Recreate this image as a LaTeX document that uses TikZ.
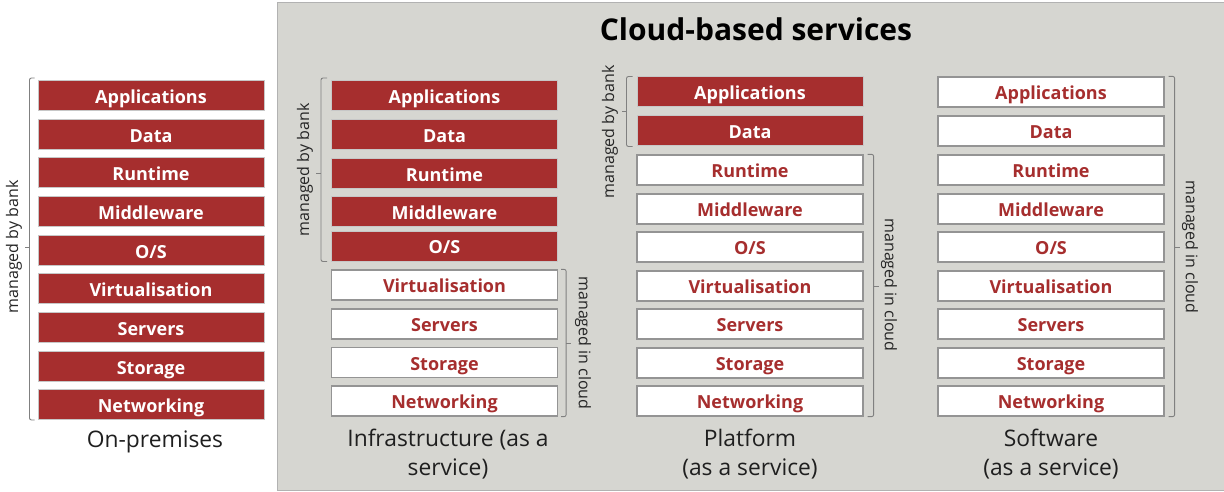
\documentclass[tikz,border=0pt]{standalone}
\usepackage{fontspec}
\setmainfont{Open Sans}
\begin{document}
\begin{tikzpicture}[x=1pt,y=-1pt,
  boxbase/.style={minimum width=226pt,minimum height=30pt,inner sep=0pt,text height=15.5pt,text depth=0pt,font=\fontsize{18}{20}\selectfont\bfseries},
  redbox/.style={boxbase,draw=black!22,line width=1pt,fill=bankred,text=white},
  whitebox/.style={boxbase,draw=black!42,line width=1.3pt,fill=white,text=bankred},
  brk/.style={draw=black!50,line width=0.9pt,rounded corners=2pt},
  side/.style={font=\fontsize{16}{18}\selectfont,text=black!85,inner sep=0pt},
  caption/.style={font=\fontsize{22.8}{29}\selectfont,text=black!88,align=center,inner sep=0pt}]
\definecolor{bankred}{RGB}{166,46,46}
\definecolor{panel}{RGB}{214,214,209}
\useasboundingbox (0,0) rectangle (1224,492);
\fill[white] (0,0) rectangle (1224,492);
\draw[fill=panel,draw=black!30,line width=1pt] (277,3) rectangle (1226,490);
\node[font=\fontsize{30}{34}\selectfont\bfseries,text=black] (title) at (756,29) {Cloud-based services};
% On-premises
\foreach \n/\t/\y in {1/Applications/95.5,2/Data/135,3/Runtime/173,4/Middleware/211.5,5/O\slash S/250.5,6/Virtualisation/288.5,7/Servers/327.5,8/Storage/366.5,9/Networking/404.5}
  \node[redbox] (op\n) at (151,\y) {\t};
% IaaS
\foreach \n/\t/\y in {1/Applications/95.5,2/Data/135,3/Runtime/173.5,4/Middleware/211.5,5/O\slash S/246}
  \node[redbox] (ia\n) at (444.5,\y) {\t};
\foreach \n/\t/\y in {6/Virtualisation/285,7/Servers/324,8/Storage/362.5,9/Networking/401}
  \node[whitebox] (ia\n) at (444.5,\y) {\t};
% PaaS
\foreach \n/\t/\y in {1/Applications/92,2/Data/131}
  \node[redbox] (pa\n) at (750,\y) {\t};
\foreach \n/\t/\y in {3/Runtime/170,4/Middleware/209,5/O\slash S/247,6/Virtualisation/286,7/Servers/324,8/Storage/363,9/Networking/401}
  \node[whitebox] (pa\n) at (750,\y) {\t};
% SaaS
\foreach \n/\t/\y in {1/Applications/92,2/Data/131,3/Runtime/170,4/Middleware/209,5/O\slash S/247,6/Virtualisation/286,7/Servers/324,8/Storage/363,9/Networking/401}
  \node[whitebox] (sa\n) at (1051,\y) {\t};
% brackets
\draw[brk] ([xshift=-3pt,yshift=2pt]op1.north west) -- ([xshift=-8pt,yshift=2pt]op1.north west) -- ([xshift=-8pt]op9.south west) -- ([xshift=-3pt]op9.south west);
\draw[brk] ([xshift=-8pt]op5.west |- 0,247) -- ++(-5,0);
\node[side,rotate=90] (oplab) at (14,247) {managed by bank};
\draw[brk] ([xshift=-4pt,yshift=2pt]ia1.north west) -- ([xshift=-10pt,yshift=2pt]ia1.north west) -- ([xshift=-10pt]ia5.south west) -- ([xshift=-4pt]ia5.south west);
\draw[brk] ([xshift=-10pt]ia3.west) -- ++(-5,0);
\node[side,rotate=90] (iablab) at (305,170) {managed by bank};
\draw[brk] ([xshift=3pt]ia6.north east) -- ([xshift=8pt]ia6.north east) -- ([xshift=8pt]ia9.south east) -- ([xshift=3pt]ia9.south east);
\draw[brk] ([xshift=8pt]ia6.east |- 0,343) -- ++(5,0);
\node[side,rotate=-90] (iaclab) at (583,343) {managed in cloud};
\draw[brk] ([xshift=-4pt]pa1.north west) -- ([xshift=-10pt]pa1.north west) -- ([xshift=-10pt]pa2.south west) -- ([xshift=-4pt]pa2.south west);
\draw[brk] ([xshift=-10pt]pa1.west |- 0,111.5) -- ++(-5,0);
\node[side,rotate=90] (pablab) at (610,132) {managed by bank};
\draw[brk] ([xshift=4pt]pa3.north east) -- ([xshift=10pt]pa3.north east) -- ([xshift=10pt]pa9.south east) -- ([xshift=4pt]pa9.south east);
\draw[brk] ([xshift=10pt]pa6.east) -- ++(5,0);
\node[side,rotate=-90] (paclab) at (889,285) {managed in cloud};
\draw[brk] ([xshift=4pt]sa1.north east) -- ([xshift=10pt]sa1.north east) -- ([xshift=10pt]sa9.south east) -- ([xshift=4pt]sa9.south east);
\draw[brk] ([xshift=10pt]sa5.east) -- ++(5,0);
\node[side,rotate=-90] (saclab) at (1190,247) {managed in cloud};
% captions
\node[caption] (opcap) at (155,442) {On-premises};
\node[caption] (iacap) at (448,454) {Infrastructure (as a\\service)};
\node[caption] (pacap) at (750,454) {Platform\\(as a service)};
\node[caption] (sacap) at (1051,454) {Software\\(as a service)};
\end{tikzpicture}
\end{document}
